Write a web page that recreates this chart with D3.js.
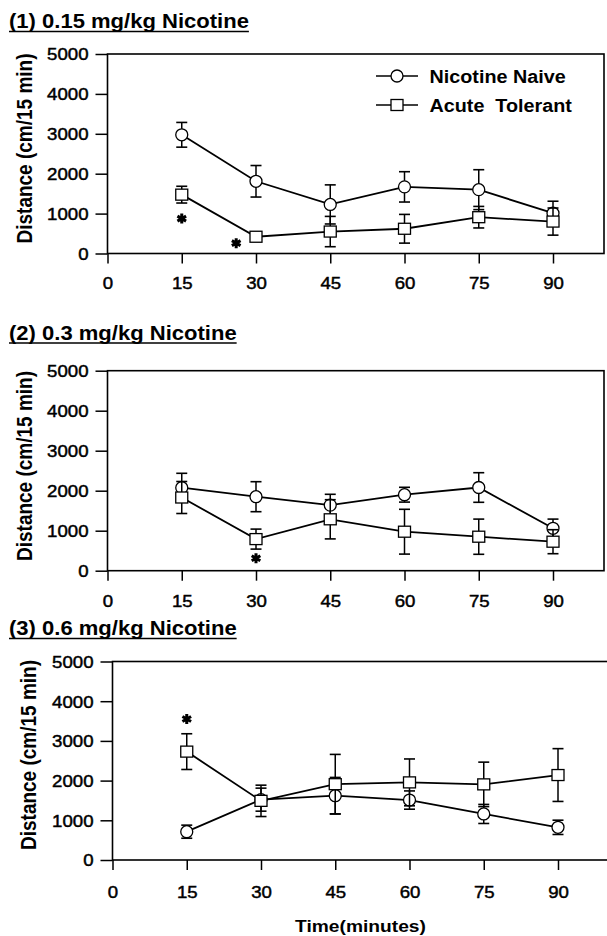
<!DOCTYPE html>
<html>
<head>
<meta charset="utf-8">
<script src="https://cdn.jsdelivr.net/npm/d3@7"></script>
<style>
  body { margin: 0; background: #fff; }
  svg { display: block; }
</style>
</head>
<body>
<div id="chart"></div>
<script>
// Values (distance, cm/15 min)
const times = [15, 30, 45, 60, 75, 90];
const xTicks = [0, 15, 30, 45, 60, 75, 90];
const yTicks = [0, 1000, 2000, 3000, 4000, 5000];
const seriesNames = ["Nicotine Naive", "Acute  Tolerant"];

const naive015 = [2975, 1810, 1230, 1670, 1600, 1010];
const naive015Sem = [310, 395, 490, 380, 500, 300];
const tolerant015 = [1475, 420, 550, 620, 910, 800];
const tolerant015Sem = [210, 110, 380, 360, 270, 340];
const stars015 = [[15, 875], [26, 260]];

const naive03 = [2075, 1850, 1640, 1900, 2080, 1060];
const naive03Sem = [360, 375, 270, 185, 370, 230];
const tolerant03 = [1830, 790, 1285, 975, 850, 725];
const tolerant03Sem = [400, 250, 490, 560, 440, 300];
const stars03 = [[30, 310]];

const naive06 = [713, 1520, 1620, 1510, 1160, 823];
const naive06Sem = [165, 290, 460, 230, 240, 180];
const tolerant06 = [2730, 1490, 1910, 1955, 1905, 2140];
const tolerant06Sem = [450, 395, 750, 590, 560, 665];
const stars06 = [[15, 3550]];

const FONT = "Arial, 'Liberation Sans', Helvetica, sans-serif";
const STRETCH = 1.13;   // the scan is a little wider than tall

const panels = [
    { title: "(1) 0.15 mg/kg Nicotine", naive: naive015, naiveSem: naive015Sem,
      tol: tolerant015, tolSem: tolerant015Sem, stars: stars015, legend: true,
      left: 107.5, top: 54, bottom: 253.5, right: 604, titleY: 28, labX: 31.5, labY: 148.5, tickDy: 36 },
    { title: "(2) 0.3 mg/kg Nicotine", naive: naive03, naiveSem: naive03Sem,
      tol: tolerant03, tolSem: tolerant03Sem, stars: stars03, legend: false,
      left: 107.5, top: 370.7, bottom: 570.7, right: 604, titleY: 339.5, labX: 31.5, labY: 466, tickDy: 36 },
    { title: "(3) 0.6 mg/kg Nicotine", naive: naive06, naiveSem: naive06Sem,
      tol: tolerant06, tolSem: tolerant06Sem, stars: stars06, legend: false,
      left: 112.5, top: 661.5, bottom: 860, right: 612, titleY: 635, labX: 36, labY: 755, tickDy: 38 }
];

const svg = d3.select("#chart").append("svg")
    .attr("width", 607)
    .attr("height", 936)
    .style("background", "#fff");

function stretchedText(g, x, y, txt) {
    return g.append("text")
        .attr("transform", `translate(${x},${y}) scale(${STRETCH},1)`)
        .attr("font-family", FONT)
        .attr("fill", "#000")
        .text(txt);
}

function circleMark(g, cx, cy) {
    g.append("circle").attr("cx", cx).attr("cy", cy).attr("r", 6)
        .attr("fill", "#fff").attr("stroke", "#000").attr("stroke-width", 1.3);
}

function squareMark(g, cx, cy) {
    g.append("rect").attr("x", cx - 6).attr("y", cy - 5.5)
        .attr("width", 12).attr("height", 11)
        .attr("fill", "#fff").attr("stroke", "#000").attr("stroke-width", 1.3);
}

function drawPanel(p) {
    const g = svg.append("g");
    const x = d3.scaleLinear().domain([0, 90]).range([p.left, p.left + 445.5]);
    const y = d3.scaleLinear().domain([0, 5000]).range([p.bottom, p.top]);

    // title with underline
    const t = stretchedText(g, 9, p.titleY, p.title)
        .attr("font-size", 19.5).attr("font-weight", "bold");
    const tw = t.node().getComputedTextLength() * STRETCH;
    g.append("line").attr("x1", 9).attr("x2", 9 + tw)
        .attr("y1", p.titleY + 3.5).attr("y2", p.titleY + 3.5)
        .attr("stroke", "#000").attr("stroke-width", 1.6);

    // frame
    g.append("rect").attr("x", p.left).attr("y", p.top)
        .attr("width", p.right - p.left).attr("height", p.bottom - p.top)
        .attr("fill", "none").attr("stroke", "#000").attr("stroke-width", 1.6);

    // y axis
    const ya = g.append("g").attr("transform", `translate(${p.left},0)`)
        .call(d3.axisLeft(y).tickValues(yTicks).tickSize(12).tickFormat(d3.format("d")));
    ya.select(".domain").remove();
    ya.attr("font-size", 16.5).attr("font-family", FONT).attr("color", "#000");
    ya.selectAll(".tick line").attr("stroke-width", 1.5);
    ya.selectAll(".tick text").attr("x", -19 / STRETCH).attr("dy", "0.36em")
        .attr("transform", `scale(${STRETCH},1)`)
        .attr("stroke", "#000").attr("stroke-width", 0.45);

    // x axis
    const xa = g.append("g").attr("transform", `translate(0,${p.bottom})`)
        .call(d3.axisBottom(x).tickValues(xTicks).tickSize(10));
    xa.select(".domain").remove();
    xa.attr("font-size", 16.5).attr("font-family", FONT).attr("color", "#000");
    xa.selectAll(".tick line").attr("stroke-width", 1.5);
    xa.selectAll(".tick text").attr("y", p.tickDy).attr("dy", 0)
        .attr("transform", `scale(${STRETCH},1)`)
        .attr("stroke", "#000").attr("stroke-width", 0.45);

    // y label
    g.append("text")
        .attr("transform", `translate(${p.labX},${p.labY}) scale(${STRETCH},1) rotate(-90)`)
        .attr("text-anchor", "middle")
        .attr("font-family", FONT).attr("font-size", 19).attr("font-weight", "bold")
        .text("Distance (cm/15 min)");

    const naivePts = times.map((tm, i) => ({ t: tm, v: p.naive[i], s: p.naiveSem[i] }));
    const tolPts = times.map((tm, i) => ({ t: tm, v: p.tol[i], s: p.tolSem[i] }));
    const line = d3.line().x(d => x(d.t)).y(d => y(d.v));

    [naivePts, tolPts].forEach(pts => {
        g.append("path").attr("d", line(pts))
            .attr("fill", "none").attr("stroke", "#000").attr("stroke-width", 1.8);
    });

    [[naivePts, circleMark], [tolPts, squareMark]].forEach(([pts, mark]) => {
        pts.forEach(d => {
            const cx = x(d.t), y0 = y(d.v - d.s), y1 = y(d.v + d.s);
            g.append("line").attr("x1", cx).attr("x2", cx).attr("y1", y0).attr("y2", y1)
                .attr("stroke", "#000").attr("stroke-width", 1.5);
            [y0, y1].forEach(yy => {
                g.append("line").attr("x1", cx - 5.5).attr("x2", cx + 5.5)
                    .attr("y1", yy).attr("y2", yy)
                    .attr("stroke", "#000").attr("stroke-width", 1.6);
            });
        });
        pts.forEach(d => mark(g, x(d.t), y(d.v)));
    });

    // significance asterisks
    const star = d3.symbol().type(d3.symbolAsterisk).size(70);
    p.stars.forEach(([tm, v]) => {
        g.append("path").attr("d", star())
            .attr("transform", `translate(${x(tm)},${y(v)})`)
            .attr("fill", "none").attr("stroke", "#000").attr("stroke-width", 3);
    });

    if (p.legend) {
        const rows = [[76, circleMark], [105, squareMark]];
        rows.forEach(([ly, mark], i) => {
            g.append("line").attr("x1", 376).attr("x2", 418).attr("y1", ly).attr("y2", ly)
                .attr("stroke", "#000").attr("stroke-width", 1.6);
            mark(g, 397, ly);
            stretchedText(g, 429.5, ly + 6.5, seriesNames[i])
                .attr("font-size", 17.5).attr("font-weight", "bold")
                .style("white-space", "pre");
        });
    }
}

panels.forEach(drawPanel);

// shared x title
stretchedText(svg, 360.5, 931.5, "Time(minutes)")
    .attr("text-anchor", "middle")
    .attr("font-size", 17).attr("font-weight", "bold");
</script>
</body>
</html>
